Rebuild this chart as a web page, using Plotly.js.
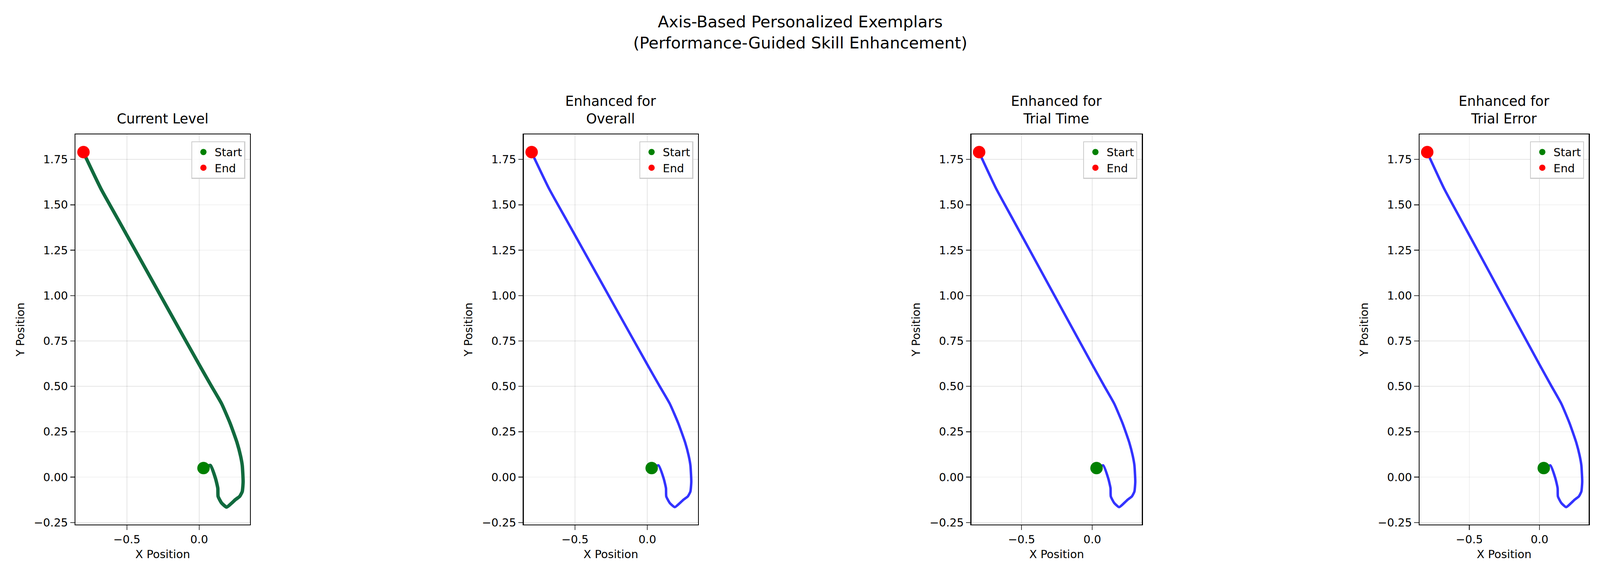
<!DOCTYPE html>
<html>
<head>
<meta charset="utf-8">
<script src="https://cdn.plot.ly/plotly-3.0.1.min.js"></script>
<style>html,body{margin:0;padding:0;overflow:hidden;background:#fff}#plot{width:100vw;height:100vh}</style>
</head>
<body>
<div id="plot"></div>
<script>
// trajectory (start -> end)
const pathX = [0.03, 0.077, 0.113, 0.129, 0.131, 0.155, 0.19, 0.226, 0.25, 0.28, 0.298, 0.304, 0.298, 0.286, 0.262, 0.214, 0.155, 0.083, 0.0, -0.202, -0.44, -0.56, -0.679, -0.798];
const pathY = [0.05, 0.065, -0.007, -0.061, -0.106, -0.142, -0.165, -0.142, -0.124, -0.106, -0.079, -0.025, 0.065, 0.118, 0.19, 0.297, 0.405, 0.504, 0.62, 0.907, 1.247, 1.418, 1.588, 1.785];
const startPt = [0.03, 0.05];
const endPt = [-0.80, 1.79];
const panelTitles = ['Current Level', 'Enhanced for<br>Overall', 'Enhanced for<br>Trial Time', 'Enhanced for<br>Trial Error'];
const lineColors = ['#116a3e', 'rgba(0,0,255,0.8)', 'rgba(0,0,255,0.8)', 'rgba(0,0,255,0.8)'];
const lineWidths = [11, 8, 8, 8];

const W = window.innerWidth || 5152, H = window.innerHeight || 1485;
const s = Math.min(W / 5152, H / 1485);
const domains = [[0.0472, 0.1562], [0.3273, 0.4363], [0.6071, 0.7137], [0.8872, 0.993]];
const yDom = [0.0956, 0.7684];
const fnt = size => ({family: 'DejaVu Sans, sans-serif', color: '#000', size: size * s});

const traces = [];
const layout = {
  width: W, height: H,
  margin: {l: 0, r: 0, t: 0, b: 0},
  paper_bgcolor: '#fff', plot_bgcolor: '#fff',
  font: fnt(36),
  annotations: [{
    text: 'Axis-Based Personalized Exemplars<br>(Performance-Guided Skill Enhancement)',
    xref: 'paper', yref: 'paper', x: 0.5, y: 1 - 30 / 1485, xanchor: 'center', yanchor: 'top',
    showarrow: false, font: fnt(52)
  }]
};

panelTitles.forEach((t, i) => {
  const n = i === 0 ? '' : String(i + 1);
  const xa = 'x' + n, ya = 'y' + n;
  const lg = 'legend' + n;
  traces.push({x: pathX, y: pathY, xaxis: xa, yaxis: ya, mode: 'lines', showlegend: false,
    line: {color: lineColors[i], width: lineWidths[i] * s, shape: 'spline', smoothing: 0.5}});
  traces.push({x: [startPt[0]], y: [startPt[1]], xaxis: xa, yaxis: ya, mode: 'markers', name: 'Start',
    legend: lg, marker: {color: 'green', size: 40 * s}});
  traces.push({x: [endPt[0]], y: [endPt[1]], xaxis: xa, yaxis: ya, mode: 'markers', name: 'End',
    legend: lg, marker: {color: 'red', size: 40 * s}});

  const axCommon = {showline: true, mirror: true, linecolor: '#000', linewidth: 3 * s,
    ticks: 'outside', ticklen: 14 * s, tickwidth: 3 * s, showgrid: true, gridcolor: 'rgba(0,0,0,0.1)', gridwidth: 2 * s,
    zeroline: false, tickfont: fnt(36)};
  layout['xaxis' + n] = Object.assign({}, axCommon, {domain: domains[i], anchor: ya,
    range: [-0.855, 0.351], tickvals: [-0.5, 0.0], ticktext: ['\u22120.5', '0.0'],
    title: {text: 'X Position', font: fnt(36), standoff: 16 * s}});
  layout['yaxis' + n] = Object.assign({}, axCommon, {domain: yDom, anchor: xa,
    range: [-0.261, 1.888], tickvals: [-0.25, 0, 0.25, 0.5, 0.75, 1.0, 1.25, 1.5, 1.75],
    ticktext: ['\u22120.25', '0.00', '0.25', '0.50', '0.75', '1.00', '1.25', '1.50', '1.75'],
    title: {text: 'Y Position', font: fnt(36), standoff: 20 * s}});
  layout[lg] = {x: domains[i][1] - 0.003, y: yDom[1] - 0.012, xanchor: 'right', yanchor: 'top',
    bgcolor: 'rgba(255,255,255,0.8)', bordercolor: '#ccc', borderwidth: 3 * s,
    font: fnt(36), itemsizing: 'trace', itemwidth: 60 * s};
  layout.annotations.push({text: t, xref: 'paper', yref: 'paper',
    x: (domains[i][0] + domains[i][1]) / 2, y: yDom[1] + 0.012, xanchor: 'center', yanchor: 'bottom',
    showarrow: false, font: fnt(44)});
});

Plotly.newPlot('plot', traces, layout, {staticPlot: true, displayModeBar: false});
</script>
</body>
</html>
